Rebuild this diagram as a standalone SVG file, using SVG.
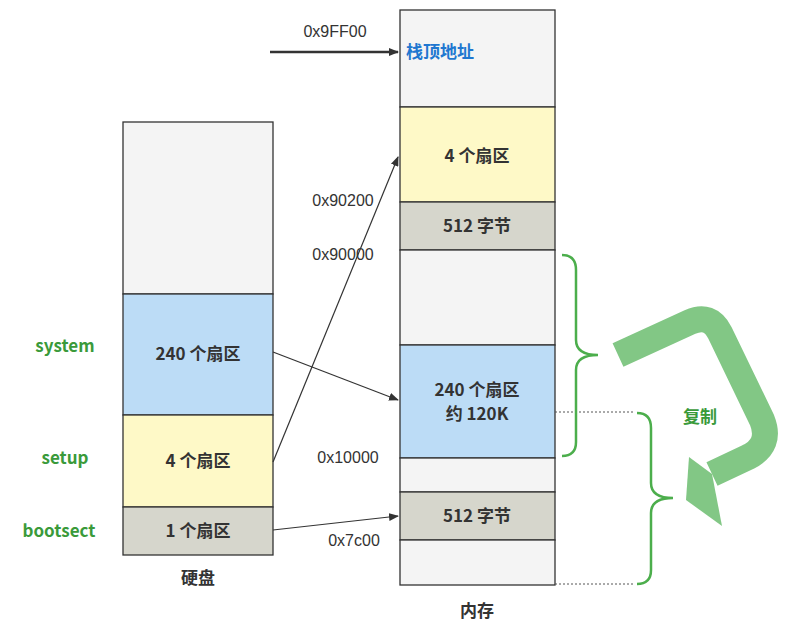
<svg xmlns="http://www.w3.org/2000/svg" width="789" height="629" viewBox="0 0 789 629">
<style>
.b{stroke:#333;stroke-width:1.3}
.t{font-family:"Noto Sans CJK SC","Liberation Sans",sans-serif;font-size:17px;font-weight:bold;fill:#333;text-anchor:middle}
.a{font-family:"Liberation Sans","Noto Sans CJK SC",sans-serif;font-size:16px;fill:#333;text-anchor:middle}
.g{font-family:"Noto Sans CJK SC","Liberation Sans",sans-serif;font-size:17px;font-weight:bold;fill:#3a9a3a;text-anchor:middle}
.br{fill:none;stroke:#4cae4c;stroke-width:2.5}
</style>
<defs><marker id="m" markerWidth="10" markerHeight="8" refX="9" refY="4" orient="auto" markerUnits="userSpaceOnUse"><path d="M0,0L10,4L0,8z" fill="#333"/></marker></defs>
<g id="disk">
<rect class="b" x="123" y="122" width="150" height="172" fill="#f4f4f4"/>
<rect class="b" x="123" y="294" width="150" height="121" fill="#bcdcf6"/>
<rect class="b" x="123" y="415" width="150" height="92" fill="#fef9c7"/>
<rect class="b" x="123" y="507" width="150" height="48" fill="#d6d6cc"/>
<text class="t" x="198" y="360">240 个扇区</text>
<text class="t" x="198" y="467">4 个扇区</text>
<text class="t" x="198" y="537">1 个扇区</text>
<text class="t" x="198" y="584">硬盘</text>
<text class="g" x="65" y="352">system</text>
<text class="g" x="65" y="464">setup</text>
<text class="g" x="59" y="537">bootsect</text>
</g>
<g id="mem">
<rect class="b" x="400" y="10" width="155" height="97" fill="#f4f4f4"/>
<rect class="b" x="400" y="107" width="155" height="95" fill="#fef9c7"/>
<rect class="b" x="400" y="202" width="155" height="48" fill="#d6d6cc"/>
<rect class="b" x="400" y="250" width="155" height="95" fill="#f4f4f4"/>
<rect class="b" x="400" y="345" width="155" height="113" fill="#bcdcf6"/>
<rect class="b" x="400" y="458" width="155" height="34" fill="#f4f4f4"/>
<rect class="b" x="400" y="492" width="155" height="48" fill="#d6d6cc"/>
<rect class="b" x="400" y="540" width="155" height="45" fill="#f4f4f4"/>
<text x="406" y="58" style="font-family:'Noto Sans CJK SC',sans-serif;font-size:17px;font-weight:bold;fill:#1f77d0">栈顶地址</text>
<text class="t" x="477" y="162">4 个扇区</text>
<text class="t" x="477" y="232">512 字节</text>
<text class="t" x="477" y="396">240 个扇区</text>
<text class="t" x="477" y="420">约 120K</text>
<text class="t" x="477" y="522">512 字节</text>
<text class="t" x="477" y="617">内存</text>
<text class="a" x="335" y="37">0x9FF00</text>
<text class="a" x="343" y="206">0x90200</text>
<text class="a" x="343" y="260">0x90000</text>
<text class="a" x="348" y="463">0x10000</text>
<text class="a" x="354" y="546">0x7c00</text>
</g>
<g id="connectors">
<line x1="270" y1="52" x2="398" y2="52" stroke="#333" stroke-width="2.5" marker-end="url(#m)"/>
<line x1="273" y1="352" x2="398" y2="400" stroke="#333" stroke-width="1.2" marker-end="url(#m)"/>
<line x1="273" y1="462" x2="398" y2="157" stroke="#333" stroke-width="1.2" marker-end="url(#m)"/>
<line x1="273" y1="530" x2="398" y2="516" stroke="#333" stroke-width="1.2" marker-end="url(#m)"/>
<line x1="555" y1="412" x2="633" y2="412" stroke="#555" stroke-dasharray="2,2"/>
<line x1="555" y1="584" x2="633" y2="584" stroke="#555" stroke-dasharray="2,2"/>
</g>
<g id="copy">
<path class="br" d="M562,255 Q576,255 576,270 L576,340 Q576,355 598,355 Q576,355 576,370 L576,442 Q576,456 562,456"/>
<path class="br" d="M637,413 Q651,413 651,428 L651,483 Q651,498 673,498 Q651,498 651,513 L651,570 Q651,584 637,584"/>
<path d="M618,355 L690,322 Q710,313 720,333 L762,420 Q772,445 748,457 L712,474" fill="none" stroke="#82c785" stroke-width="26"/>
<polygon points="689,457 686,500 722,526 712,474" fill="#82c785"/>
<text class="g" x="700" y="423">复制</text>
</g>
</svg>
